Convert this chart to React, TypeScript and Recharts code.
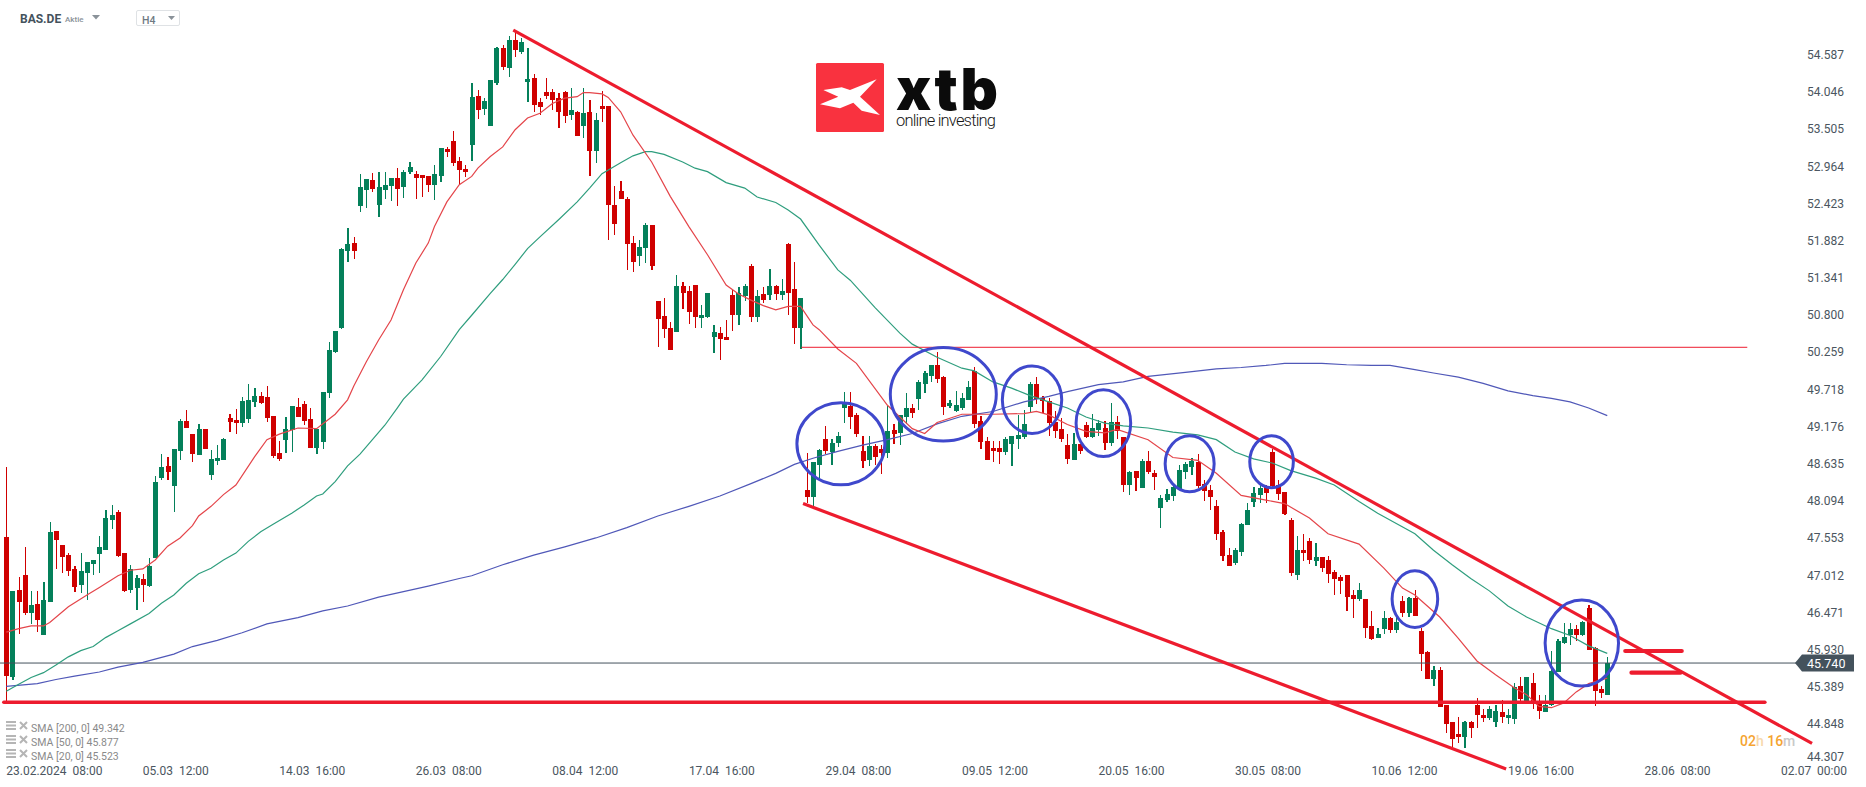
import React from 'react';
import { ComposedChart, Bar, Line, XAxis, YAxis, ReferenceLine, ReferenceDot } from 'recharts';

const opens = [
  47.57, 45.53, 46.80, 47.02, 46.47, 46.60, 46.15, 46.63, 47.66, 47.46,
  47.31, 47.11, 46.88, 47.05, 47.18, 47.33, 47.38, 47.82, 47.94, 47.34,
  46.80, 46.83, 46.96, 46.86, 47.27, 48.43, 48.61, 48.32, 48.82, 49.26,
  49.07, 48.77, 49.15, 48.48, 48.68, 48.69, 49.30, 49.28, 49.23, 49.29,
  49.54, 49.63, 49.61, 49.33, 48.80, 48.98, 49.13, 49.47, 49.51, 49.29,
  48.87, 48.96, 49.67, 50.27, 50.61, 51.73, 51.85, 52.39, 52.62, 52.77,
  52.40, 52.62, 52.68, 52.80, 52.67, 52.88, 52.86, 52.84, 52.83, 52.70,
  52.83, 53.22, 53.33, 53.04, 52.93, 53.28, 53.99, 53.80, 53.55, 54.18,
  54.69, 54.40, 54.80, 54.63, 54.19, 54.25, 53.90, 54.05, 54.05, 53.96,
  54.05, 53.71, 53.76, 53.55, 53.76, 53.19, 53.84, 53.84, 52.40, 52.61,
  52.49, 51.85, 51.66, 51.78, 52.11, 51.01, 50.79, 50.61, 50.56, 51.23,
  51.15, 51.24, 50.76, 50.77, 50.48, 50.54, 50.48, 51.10, 50.80, 51.08,
  51.52, 50.77, 51.11, 51.10, 51.23, 51.10, 51.84, 51.18, 50.61, 48.26,
  48.16, 48.62, 49.00, 48.81, 48.94, 49.45, 49.48, 49.35, 48.82, 48.69,
  48.90, 48.85, 48.80, 49.13, 49.09, 49.32, 49.45, 49.58, 49.80, 49.92,
  50.08, 49.90, 49.48, 49.41, 49.45, 49.57, 49.99, 49.26, 48.97, 48.87,
  48.87, 48.81, 48.93, 49.00, 49.03, 49.47, 49.80, 49.60, 49.55, 49.25,
  49.15, 48.91, 48.69, 48.93, 49.20, 49.03, 49.13, 49.16, 48.94, 49.25,
  49.03, 48.33, 48.53, 48.29, 48.68, 48.51, 48.00, 48.11, 48.17, 48.27,
  48.52, 48.59, 48.67, 48.35, 48.26, 48.02, 47.65, 47.31, 47.20, 47.36,
  47.75, 48.08, 48.18, 48.32, 48.81, 48.33, 48.23, 47.82, 47.02, 47.38,
  47.52, 47.22, 47.28, 47.24, 47.06, 46.99, 47.02, 46.73, 46.67, 46.67,
  46.28, 46.10, 46.23, 46.40, 46.22, 46.64, 46.47, 46.69, 46.21, 45.90,
  45.51, 45.64, 45.13, 44.88, 44.71, 44.66, 44.88, 45.13, 44.99, 44.94,
  44.88, 45.03, 44.94, 44.93, 45.41, 45.17, 45.45, 45.14, 45.03, 45.13,
  45.61, 46.03, 46.15, 46.23, 46.15, 46.54, 45.96, 45.36, 45.28,
];
const highs = [
  48.59, 46.79, 46.99, 47.43, 46.79, 46.79, 46.92, 47.79, 47.66, 47.46,
  47.34, 47.15, 47.34, 47.21, 47.24, 47.59, 47.97, 48.04, 47.97, 47.34,
  47.17, 47.02, 47.04, 47.27, 48.46, 48.78, 48.74, 48.85, 49.29, 49.42,
  49.07, 49.22, 49.15, 48.84, 48.91, 49.01, 49.36, 49.44, 49.61, 49.80,
  49.74, 49.68, 49.77, 49.33, 48.97, 49.32, 49.48, 49.60, 49.55, 49.45,
  49.15, 49.68, 50.41, 50.57, 51.78, 52.07, 51.94, 52.86, 52.78, 52.87,
  52.89, 52.89, 52.80, 52.94, 52.91, 53.03, 52.90, 52.84, 52.83, 52.99,
  53.23, 53.25, 53.48, 53.10, 52.99, 54.18, 54.08, 53.96, 54.22, 54.70,
  54.73, 54.86, 54.92, 54.83, 54.69, 54.31, 53.96, 54.25, 54.09, 54.03,
  54.06, 54.11, 53.77, 54.11, 53.93, 53.74, 54.06, 53.84, 52.68, 52.75,
  52.52, 51.95, 51.90, 52.14, 52.11, 51.01, 51.05, 50.70, 51.39, 51.28,
  51.23, 51.24, 50.95, 51.12, 50.66, 50.63, 50.73, 51.17, 51.21, 51.25,
  51.55, 51.17, 51.21, 51.47, 51.24, 51.33, 51.85, 51.57, 51.05, 48.80,
  48.67, 48.85, 49.19, 49.00, 49.10, 49.68, 49.68, 49.38, 49.04, 49.04,
  48.93, 48.91, 49.48, 49.22, 49.35, 49.67, 49.51, 49.86, 49.99, 50.08,
  50.27, 49.92, 49.57, 49.70, 49.67, 49.84, 50.05, 49.33, 49.03, 48.97,
  48.97, 49.03, 49.04, 49.35, 49.42, 49.83, 49.90, 49.63, 49.60, 49.41,
  49.30, 49.07, 49.09, 48.93, 49.25, 49.36, 49.28, 49.26, 49.52, 49.33,
  49.03, 48.53, 48.53, 48.71, 48.83, 48.55, 48.19, 48.27, 48.35, 48.62,
  48.67, 48.72, 48.78, 48.40, 48.33, 48.11, 47.68, 47.41, 47.41, 47.78,
  48.07, 48.30, 48.33, 48.33, 48.85, 48.40, 48.23, 47.85, 47.59, 47.62,
  47.56, 47.49, 47.28, 47.30, 47.09, 47.02, 47.02, 46.80, 46.90, 46.67,
  46.50, 46.25, 46.50, 46.41, 46.41, 46.72, 46.70, 46.80, 46.25, 45.91,
  45.70, 45.68, 45.13, 44.88, 44.96, 44.90, 44.90, 45.23, 45.07, 45.11,
  45.13, 45.20, 45.07, 45.45, 45.54, 45.54, 45.59, 45.27, 45.27, 45.91,
  46.09, 46.32, 46.32, 46.29, 46.35, 46.58, 45.97, 45.41, 45.83,
];
const lows = [
  45.18, 45.50, 46.16, 46.44, 46.31, 46.19, 46.15, 46.63, 47.11, 47.05,
  47.01, 46.77, 46.76, 46.66, 47.02, 47.05, 47.38, 47.69, 47.28, 46.77,
  46.76, 46.51, 46.63, 46.85, 47.27, 48.40, 48.40, 47.94, 48.69, 49.16,
  48.66, 48.77, 48.85, 48.40, 48.62, 48.69, 49.10, 49.07, 49.17, 49.23,
  49.47, 49.51, 49.25, 48.72, 48.68, 48.80, 48.81, 49.32, 49.20, 48.87,
  48.78, 48.85, 49.60, 50.25, 50.60, 51.57, 51.62, 52.30, 52.36, 52.59,
  52.23, 52.49, 52.46, 52.39, 52.51, 52.86, 52.49, 52.52, 52.59, 52.48,
  52.74, 53.10, 52.97, 52.71, 52.81, 53.04, 53.66, 53.71, 53.55, 54.15,
  54.37, 54.27, 54.56, 54.60, 53.90, 53.76, 53.71, 53.95, 53.79, 53.52,
  53.60, 53.64, 53.41, 53.38, 52.83, 53.02, 53.61, 51.90, 51.97, 52.49,
  51.46, 51.43, 51.52, 51.56, 51.46, 50.34, 50.47, 50.29, 50.56, 50.89,
  50.67, 50.61, 50.61, 50.76, 50.25, 50.15, 50.44, 50.57, 50.66, 51.01,
  50.70, 50.70, 50.98, 51.02, 51.02, 51.02, 50.80, 50.38, 50.31, 48.07,
  48.03, 48.43, 48.78, 48.62, 48.88, 49.23, 49.15, 49.03, 48.58, 48.61,
  48.62, 48.49, 48.72, 48.93, 48.91, 49.22, 49.31, 49.42, 49.67, 49.83,
  49.81, 49.35, 49.45, 49.39, 49.42, 49.57, 49.16, 48.85, 48.69, 48.67,
  48.64, 48.77, 48.61, 48.85, 49.00, 49.38, 49.51, 49.38, 49.04, 49.01,
  48.96, 48.64, 48.69, 48.78, 49.01, 49.01, 49.04, 48.84, 48.90, 49.00,
  48.23, 48.19, 48.24, 48.29, 48.49, 48.26, 47.71, 48.08, 48.10, 48.27,
  48.42, 48.48, 48.29, 48.10, 47.97, 47.53, 47.23, 47.15, 47.17, 47.30,
  47.75, 48.01, 48.07, 48.07, 48.29, 48.11, 47.89, 47.00, 46.95, 47.22,
  47.18, 47.15, 47.06, 46.90, 46.73, 46.74, 46.50, 46.40, 46.64, 46.10,
  46.08, 46.10, 46.16, 46.18, 46.18, 46.41, 46.41, 46.43, 45.62, 45.51,
  45.41, 45.10, 44.72, 44.52, 44.58, 44.50, 44.65, 44.79, 44.88, 44.91,
  44.81, 44.87, 44.85, 44.85, 45.14, 45.14, 45.07, 44.93, 45.03, 45.11,
  45.61, 46.02, 46.00, 46.06, 46.13, 45.93, 45.11, 45.23, 45.28,
];
const closes = [
  45.55, 46.79, 46.63, 46.47, 46.58, 46.37, 46.66, 47.65, 47.53, 47.28,
  47.08, 46.85, 47.08, 47.21, 47.24, 47.43, 47.85, 47.89, 47.30, 46.79,
  47.11, 46.98, 46.88, 47.15, 48.37, 48.59, 48.52, 48.85, 49.26, 49.16,
  48.78, 49.15, 48.85, 48.71, 48.72, 49.00, 49.25, 49.23, 49.55, 49.57,
  49.63, 49.52, 49.31, 48.75, 48.71, 49.15, 49.48, 49.32, 49.26, 48.87,
  49.15, 49.68, 50.29, 50.57, 51.76, 51.84, 51.73, 52.67, 52.78, 52.64,
  52.67, 52.70, 52.80, 52.64, 52.88, 52.96, 52.80, 52.80, 52.70, 52.86,
  53.23, 53.17, 53.02, 52.91, 52.88, 53.98, 53.79, 53.92, 54.22, 54.69,
  54.41, 54.80, 54.66, 54.78, 54.24, 53.86, 53.83, 53.99, 53.93, 53.76,
  53.70, 53.79, 53.41, 53.74, 53.19, 53.64, 53.80, 52.40, 52.13, 52.49,
  51.84, 51.57, 51.79, 52.11, 51.52, 50.75, 50.60, 50.29, 51.23, 51.12,
  50.85, 50.77, 50.80, 51.12, 50.56, 50.46, 50.44, 50.80, 51.12, 51.23,
  50.77, 51.08, 51.02, 51.23, 51.11, 51.15, 51.12, 50.61, 51.05, 48.16,
  48.67, 48.84, 48.82, 48.94, 49.04, 49.51, 49.32, 49.07, 48.68, 48.90,
  48.74, 48.80, 49.12, 49.07, 49.35, 49.45, 49.38, 49.83, 49.96, 50.08,
  49.87, 49.47, 49.52, 49.49, 49.60, 49.76, 49.22, 48.96, 48.69, 48.82,
  48.81, 49.00, 49.04, 49.06, 49.22, 49.80, 49.58, 49.55, 49.23, 49.12,
  49.00, 48.71, 48.93, 48.82, 49.03, 49.16, 49.23, 48.94, 49.25, 49.12,
  48.33, 48.52, 48.43, 48.68, 48.52, 48.45, 48.14, 48.20, 48.30, 48.55,
  48.64, 48.68, 48.32, 48.24, 48.16, 47.62, 47.30, 47.15, 47.38, 47.76,
  47.96, 48.21, 48.29, 48.21, 48.32, 48.20, 47.91, 47.05, 47.38, 47.34,
  47.24, 47.28, 47.12, 47.04, 46.96, 46.93, 46.70, 46.67, 46.80, 46.25,
  46.09, 46.16, 46.40, 46.22, 46.34, 46.47, 46.69, 46.43, 45.87, 45.51,
  45.64, 45.10, 44.85, 44.63, 44.66, 44.88, 44.79, 44.98, 44.94, 45.07,
  45.04, 44.96, 44.98, 45.39, 45.22, 45.54, 45.17, 45.04, 45.13, 45.62,
  46.06, 46.12, 46.23, 46.15, 46.34, 45.93, 45.33, 45.30, 45.74,
];

// moving averages at the candles listed
const sma20Index = [
  0, 2, 4, 6, 7, 10, 13, 15, 18, 20, 22, 24, 26, 28, 30, 31, 33, 35, 37, 40, 42, 44, 47, 50, 53, 55,
  56, 58, 60, 62, 64, 66, 68, 69, 71, 73, 75, 76, 78, 80, 82, 84, 86, 88, 90, 92, 93, 94, 96, 97, 99,
  101, 104, 107, 110, 113, 116, 118, 120, 122, 124, 126, 128, 130, 131, 134, 137, 142, 146, 148, 150,
  154, 159, 164, 166, 168, 171, 174, 177, 179, 184, 188, 192, 195, 199, 203, 206, 210, 213, 218, 222,
  225, 227, 231, 234, 237, 240, 243, 245, 247, 249, 251, 253, 255, 258,
];
const sma20Values = [
  46.19, 46.24, 46.28, 46.28, 46.33, 46.56, 46.73, 46.84, 47.01, 47.09, 47.11, 47.24, 47.44, 47.56, 47.74, 47.88, 48.02, 48.19, 48.33, 48.74, 48.99, 49.07, 49.16, 49.15, 49.36, 49.57,
  49.77, 50.12, 50.44, 50.73, 51.17, 51.56, 51.85, 52.09, 52.45, 52.70, 52.82, 52.94, 53.11, 53.25, 53.50, 53.67, 53.74, 53.88, 53.96, 53.98, 54.04, 54.04, 54.02, 53.97, 53.76,
  53.42, 53.03, 52.53, 52.09, 51.68, 51.24, 51.11, 51.02, 50.94, 50.88, 50.93, 50.93, 50.66, 50.59, 50.31, 50.10, 49.49, 49.15, 49.08, 49.24,
  49.36, 49.36, 49.37, 49.40, 49.35, 49.21, 49.11, 49.09, 49.14, 48.99, 48.73, 48.69, 48.50, 48.18, 48.11, 48.06, 47.85, 47.62, 47.47, 47.12,
  46.83, 46.73, 46.41, 46.10, 45.77, 45.57, 45.38, 45.28, 45.11, 45.09, 45.16, 45.32, 45.44, 45.52,
];
const sma50Index = [
  0, 2, 4, 6, 8, 10, 12, 14, 16, 18, 20, 23, 25, 27, 29, 31, 33, 35, 37, 39, 41, 43, 46, 48, 50, 51, 53, 55, 57, 59, 61, 63,
  64, 67, 70, 73, 75, 78, 80, 82, 84, 86, 89, 92, 94, 96, 99, 101, 103, 104, 106, 109, 111, 113, 116, 119, 121, 124, 126, 128,
  131, 134, 136, 140, 144, 146, 150, 154, 156, 159, 162, 165, 168, 171, 174, 177, 180, 184, 188, 192, 195, 198, 201, 204, 207,
  211, 214, 218, 221, 224, 227, 230, 233, 236, 239, 242, 245, 249, 252, 255, 258,
];
const sma50Values = [
  45.33, 45.43, 45.53, 45.60, 45.71, 45.83, 45.92, 45.98, 46.11, 46.21, 46.31, 46.46, 46.61, 46.73, 46.90, 47.04, 47.12, 47.24, 47.34, 47.51, 47.65, 47.76, 47.92, 48.04, 48.17, 48.20, 48.38, 48.61, 48.78, 48.99, 49.20, 49.45,
  49.58, 49.86, 50.20, 50.59, 50.80, 51.12, 51.32, 51.54, 51.77, 51.94, 52.19, 52.45, 52.65, 52.86, 53.02, 53.12, 53.18, 53.18, 53.14, 53.03, 52.94, 52.89, 52.73, 52.65, 52.52, 52.44, 52.33, 52.20,
  51.82, 51.46, 51.31, 50.91, 50.54, 50.38, 50.19, 50.03, 49.99, 49.83, 49.74, 49.63, 49.54, 49.45, 49.32, 49.23, 49.19, 49.16, 49.10, 49.06, 48.99, 48.81, 48.71, 48.65, 48.54,
  48.43, 48.33, 48.09, 47.92, 47.77, 47.62, 47.38, 47.17, 46.97, 46.79, 46.57, 46.41, 46.24, 46.14, 45.99, 45.88,
];
const sma200Index = [
  0, 5, 8, 11, 15, 18, 22, 27, 30, 34, 38, 42, 47, 51, 55, 60, 64, 68, 73, 75,
  80, 85, 90, 95, 100, 105, 110, 115, 120, 124, 127, 130, 134, 138, 142, 146, 150, 154, 159, 164, 168, 171, 176, 180, 184, 190,
  195, 199, 203, 206, 212, 216, 220, 223, 227, 230, 234, 238, 242, 246, 249, 252, 255, 258,
];
const sma200Values = [
  45.40, 45.44, 45.50, 45.55, 45.61, 45.68, 45.75, 45.87, 45.98, 46.07, 46.18, 46.31, 46.40, 46.50, 46.57, 46.70, 46.78, 46.86, 46.97, 47.01,
  47.17, 47.31, 47.43, 47.56, 47.71, 47.88, 48.02, 48.17, 48.35, 48.50, 48.63, 48.72, 48.82, 48.91, 48.99, 49.08, 49.22, 49.33, 49.40, 49.54, 49.62, 49.69, 49.79, 49.83, 49.91, 49.97,
  50.02, 50.04, 50.07, 50.10, 50.10, 50.08, 50.07, 50.07, 50.01, 49.96, 49.90, 49.81, 49.70, 49.63, 49.59, 49.54, 49.45, 49.34,
];

const yTicks = [
  54.587, 54.046, 53.505, 52.964, 52.423, 51.882, 51.341, 50.8, 50.259, 49.718,
  49.176, 48.635, 48.094, 47.553, 47.012, 46.471, 45.93, 45.389, 44.848, 44.307,
];
const xTicks = [0, 22, 44, 66, 88, 110, 132, 154, 176, 198, 220, 242, 264, 286];
const xLabels = [
  '23.02.2024\u00a0\u00a008:00', '05.03\u00a0\u00a012:00', '14.03\u00a0\u00a016:00', '26.03\u00a0\u00a008:00',
  '08.04\u00a0\u00a012:00', '17.04\u00a0\u00a016:00', '29.04\u00a0\u00a008:00', '09.05\u00a0\u00a012:00',
  '20.05\u00a0\u00a016:00', '30.05\u00a0\u00a008:00', '10.06\u00a0\u00a012:00', '19.06\u00a0\u00a016:00',
  '28.06\u00a0\u00a008:00', '02.07\u00a0\u00a000:00',
];
const smaLegend = ['SMA [200, 0] 49.342', 'SMA [50, 0] 45.877', 'SMA [20, 0] 45.523'];

const lastPrice = 45.74;

// drawn trend lines: [x1, y1, x2, y2] in candle index / price
const trendLines = [
  [81.7, 54.95, 291, 44.57],
  [128.4, 48.06, 241.7, 44.2],
];
const levels = [
  { from: 128.2, to: 280.5, price: 50.334, width: 1 },
  { from: -0.4, to: 283.4, price: 45.168, width: 3.5 },
  { from: 260.9, to: 270, price: 45.915, width: 4.2 },
  { from: 261.9, to: 269.8, price: 45.6, width: 4.2 },
];
// circles round the rejections: candle index, price, radii in px
const circles = [
  { i: 134.5, p: 48.93, rx: 44, ry: 41 },
  { i: 151, p: 49.65, rx: 53, ry: 46.7 },
  { i: 165.3, p: 49.57, rx: 29.7, ry: 33.7 },
  { i: 176.8, p: 49.23, rx: 27.3, ry: 33.3 },
  { i: 190.7, p: 48.64, rx: 24.5, ry: 28 },
  { i: 203.9, p: 48.67, rx: 21.8, ry: 26 },
  { i: 227, p: 46.67, rx: 22.8, ry: 28.3 },
  { i: 253.9, p: 46.03, rx: 36.7, ry: 43 },
];

const sma20 = new Map(sma20Index.map((k, n) => [k, sma20Values[n]]));
const sma50 = new Map(sma50Index.map((k, n) => [k, sma50Values[n]]));
const sma200 = new Map(sma200Index.map((k, n) => [k, sma200Values[n]]));

const data = opens.map((o, i) => ({
  i,
  open: o,
  close: closes[i],
  range: [lows[i], highs[i]],
  sma20: sma20.get(i) ?? null,
  sma50: sma50.get(i) ?? null,
  sma200: sma200.get(i) ?? null,
}));

const UP = '#04805a';
const DOWN = '#cf0000';
const LINE_RED = '#ed1c2e';
const AXIS_TEXT = '#4b5660';
const FONT = 'Roboto, sans-serif';

function Candle(props: any) {
  const { x, y, width, height, payload } = props;
  const [low, high] = payload.range;
  const py = (v: number) => y + ((high - v) / (high - low)) * height;
  const top = py(Math.max(payload.open, payload.close));
  const bottom = py(Math.min(payload.open, payload.close));
  const color = payload.close >= payload.open ? UP : DOWN;
  const cx = x + width / 2;
  return (
    <g shapeRendering="crispEdges">
      <rect x={cx - 0.6} y={y} width={1.2} height={height} fill={color} />
      <rect x={cx - 2.5} y={top} width={5} height={Math.max(bottom - top, 1)} fill={color} />
    </g>
  );
}

function XTick({ x, payload }: any) {
  const label = xLabels[xTicks.indexOf(payload.value)];
  return (
    <text x={x} y={775} fontFamily={FONT} fontSize={12} fill={AXIS_TEXT} textAnchor="start">
      {label}
    </text>
  );
}

function YTick({ y, payload }: any) {
  const dy = payload.value === 44.307 ? -5 : 0;
  return (
    <text x={1807} y={y + dy + 4} fontFamily={FONT} fontSize={12} fill={AXIS_TEXT} textAnchor="start">
      {payload.value.toFixed(3)}
    </text>
  );
}

function Overlay() {
  return (
    <svg width={1866} height={787} style={{ position: 'absolute', left: 0, top: 0, pointerEvents: 'none' }}>
      {/* header */}
      <text x={20} y={23} fontFamily={FONT} fontSize={12} fontWeight={700} fill="#44525c">BAS.DE</text>
      <text x={65} y={22} fontFamily={FONT} fontSize={8} fontWeight={500} fill="#8a9299">Aktie</text>
      <polygon points="92,15 100,15 96,19.5" fill="#8a9299" />
      <rect x={136.5} y={10.5} width={43} height={15} rx={1.5} fill="#fff" stroke="#dfe2e5" />
      <text x={142} y={24} fontFamily={FONT} fontSize={10.5} fontWeight={500} fill="#6f7a83">H4</text>
      <polygon points="168,16 175,16 171.5,20" fill="#8a9299" />

      {/* logo */}
      <rect x={816} y={63} width={68} height={69} rx={1.5} fill="#f9323f" />
      <polygon
        points="823.3,90 841.7,87.3 850,90 876.7,79.3 860,96.7 880,115 861.7,110.7 853.3,102.7 840,108.3 820,104.3 838.3,96.7"
        fill="#fff"
      />
      <text x={896} y={110} fontFamily="Inter, Roboto, sans-serif" fontSize={58} fontWeight={900} fill="#0b0b0b" textLength={102}>
        xtb
      </text>
      <text x={896} y={126} fontFamily={FONT} fontSize={16.5} fontWeight={300} fill="#161616" textLength={100}>
        online investing
      </text>

      {/* indicator legend */}
      {smaLegend.map((t, n) => {
        const y = 728 + n * 14;
        return (
          <g key={t}>
            <rect x={6} y={y - 7} width={10} height={2} fill="#b5b5b5" />
            <rect x={6} y={y - 3.5} width={10} height={2} fill="#b5b5b5" />
            <rect x={6} y={y} width={10} height={2} fill="#b5b5b5" />
            <path d={`M20 ${y - 6} L27 ${y + 1} M27 ${y - 6} L20 ${y + 1}`} stroke="#b5b5b5" strokeWidth={2} />
            <text x={31} y={y + 4} fontFamily={FONT} fontSize={10.5} fill="#8a8a8a">{t}</text>
          </g>
        );
      })}

      {/* last price tag */}
      <polygon points="1795,663 1802,654.5 1854,654.5 1854,671.5 1802,671.5" fill="#44525c" />
      <text x={1807} y={667.5} fontFamily={FONT} fontSize={12.5} fill="#fff">{lastPrice.toFixed(3)}</text>

      {/* countdown */}
      <text x={1740} y={746} fontFamily={FONT} fontSize={14} fontWeight={500}>
        <tspan fill="#f5a431">02</tspan>
        <tspan fill="#f7d9ad">h </tspan>
        <tspan fill="#f5a431">16</tspan>
        <tspan fill="#c9c9c9">m</tspan>
      </text>
    </svg>
  );
}

export default function App() {
  return (
    <div style={{ position: 'absolute', left: 0, top: 0, width: 1866, height: 787, background: '#fff', overflow: 'hidden' }}>
      <ComposedChart
        width={1866}
        height={787}
        data={data}
        margin={{ top: 0, right: 0, bottom: 0, left: 0 }}
      >
        <XAxis
          dataKey="i"
          type="number"
          domain={[-1.015, 294.7]}
          allowDataOverflow
          ticks={xTicks}
          interval={0}
          height={12}
          axisLine={false}
          tickLine={false}
          tick={<XTick />}
        />
        <YAxis
          orientation="right"
          type="number"
          domain={[44.111, 55.387]}
          allowDataOverflow
          ticks={yTicks}
          interval={0}
          width={31}
          axisLine={false}
          tickLine={false}
          tick={<YTick />}
        />
        <ReferenceLine y={lastPrice} stroke="#44525c" strokeWidth={1} />
        <Line dataKey="sma200" stroke="#5058b8" strokeWidth={1.2} dot={false} activeDot={false} connectNulls isAnimationActive={false} />
        <Line dataKey="sma50" stroke="#2f9e7e" strokeWidth={1.2} dot={false} activeDot={false} connectNulls isAnimationActive={false} />
        <Line dataKey="sma20" stroke="#e4454a" strokeWidth={1.2} dot={false} activeDot={false} connectNulls isAnimationActive={false} />
        <Bar dataKey="range" barSize={5} isAnimationActive={false} shape={(p: any) => <Candle {...p} />} />
        {trendLines.map((t, n) => (
          <ReferenceLine
            key={n}
            segment={[{ x: t[0], y: t[1] }, { x: t[2], y: t[3] }]}
            stroke={LINE_RED}
            strokeWidth={3.2}
            ifOverflow="visible"
          />
        ))}
        {levels.map((l, n) => (
          <ReferenceLine
            key={n}
            segment={[{ x: l.from, y: l.price }, { x: l.to, y: l.price }]}
            stroke={LINE_RED}
            strokeWidth={l.width}
            strokeLinecap="round"
            ifOverflow="visible"
          />
        ))}
        {circles.map((c, n) => (
          <ReferenceDot
            key={n}
            x={c.i}
            y={c.p}
            ifOverflow="visible"
            shape={(p: any) => (
              <ellipse cx={p.cx} cy={p.cy} rx={c.rx} ry={c.ry} fill="none" stroke="#3f48cc" strokeWidth={3} />
            )}
          />
        ))}
      </ComposedChart>
      <Overlay />
    </div>
  );
}
